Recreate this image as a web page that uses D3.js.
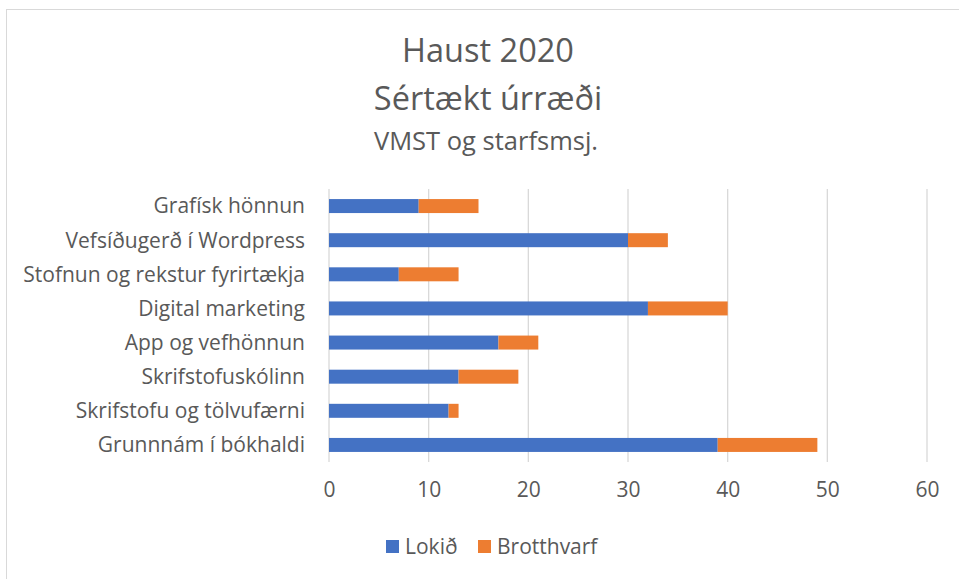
<!DOCTYPE html>
<html>
<head>
<meta charset="utf-8">
<script src="https://cdn.jsdelivr.net/npm/d3@7"></script>
<style>
  body { margin: 0; background: #fff; }
  text { font-family: "Open Sans", Lato, sans-serif; fill: #595959; }
</style>
</head>
<body>
<div id="chart"></div>
<script>
// data
var categories = ["Grafísk hönnun", "Vefsíðugerð í Wordpress", "Stofnun og rekstur fyrirtækja",
  "Digital marketing", "App og vefhönnun", "Skrifstofuskólinn",
  "Skrifstofu og tölvufærni", "Grunnnám í bókhaldi"];
var lokid = [9, 30, 7, 32, 17, 13, 12, 39];
var brotthvarf = [6, 4, 6, 8, 4, 6, 1, 10];
var seriesNames = ["Lokið", "Brotthvarf"];
var colors = ["#4472c4", "#ed7d31"];
var xTicks = [0, 10, 20, 30, 40, 50, 60];

var W = 959, H = 579;
var plot = { left: 329, right: 927, top: 189, bottom: 462 };

var svg = d3.select("#chart").append("svg")
  .attr("width", W).attr("height", H);

// outer chart border
svg.append("rect")
  .attr("x", 6.5).attr("y", 9.5)
  .attr("width", W).attr("height", H)
  .attr("fill", "#fff").attr("stroke", "#d9d9d9");

// titles
svg.append("text").attr("x", 488).attr("y", 62).attr("text-anchor", "middle")
  .style("font-size", "32.5px").text("Haust 2020");
svg.append("text").attr("x", 488).attr("y", 110).attr("text-anchor", "middle")
  .style("font-size", "32.5px").text("Sértækt úrræði");
svg.append("text").attr("x", 486).attr("y", 150).attr("text-anchor", "middle")
  .style("font-size", "25.5px").text("VMST og starfsmsj.");

var x = d3.scaleLinear().domain([0, 60]).range([plot.left, plot.right]);
var y = d3.scaleBand().domain(categories).range([plot.top, plot.bottom]).paddingInner(0.59).paddingOuter(0.295);

// gridlines
svg.append("g").selectAll("line").data(xTicks).enter().append("line")
  .attr("x1", function(d) { return x(d); }).attr("x2", function(d) { return x(d); })
  .attr("y1", plot.top).attr("y2", plot.bottom)
  .attr("stroke", "#d9d9d9").attr("stroke-width", 1.3);

// stacked bars
var rows = categories.map(function(c, i) { return { cat: c, "Lokið": lokid[i], "Brotthvarf": brotthvarf[i] }; });
var stack = d3.stack().keys(seriesNames)(rows);

svg.append("g").selectAll("g").data(stack).enter().append("g")
  .attr("fill", function(d, i) { return colors[i]; })
  .selectAll("rect").data(function(d) { return d; }).enter().append("rect")
  .attr("x", function(d) { return x(d[0]); })
  .attr("width", function(d) { return x(d[1]) - x(d[0]); })
  .attr("y", function(d) { return y(d.data.cat); })
  .attr("height", y.bandwidth());

// category labels
svg.append("g").selectAll("text").data(categories).enter().append("text")
  .attr("x", 305)
  .attr("y", function(d) { return y(d) + y.bandwidth() / 2; })
  .attr("dy", "0.35em")
  .attr("text-anchor", "end")
  .style("font-size", "21px")
  .text(function(d) { return d; });

// x axis labels
var xAxis = d3.axisBottom(x).tickValues(xTicks).tickSize(0).tickPadding(20);
var gx = svg.append("g").attr("transform", "translate(0," + plot.bottom + ")").call(xAxis);
gx.select(".domain").remove();
gx.selectAll("text").style("font-size", "21px").style("fill", "#595959")
  .style("font-family", "'Open Sans', Lato, sans-serif");

// legend
var legX = [386, 478];
var leg = svg.append("g").selectAll("g").data(seriesNames).enter().append("g")
  .attr("transform", function(d, i) { return "translate(" + legX[i] + ",540)"; });
leg.append("rect").attr("width", 13).attr("height", 13)
  .attr("fill", function(d, i) { return colors[i]; });
leg.append("text").attr("x", 19).attr("y", 7).attr("dy", "0.35em")
  .style("font-size", "21px").text(function(d) { return d; });
</script>
</body>
</html>
